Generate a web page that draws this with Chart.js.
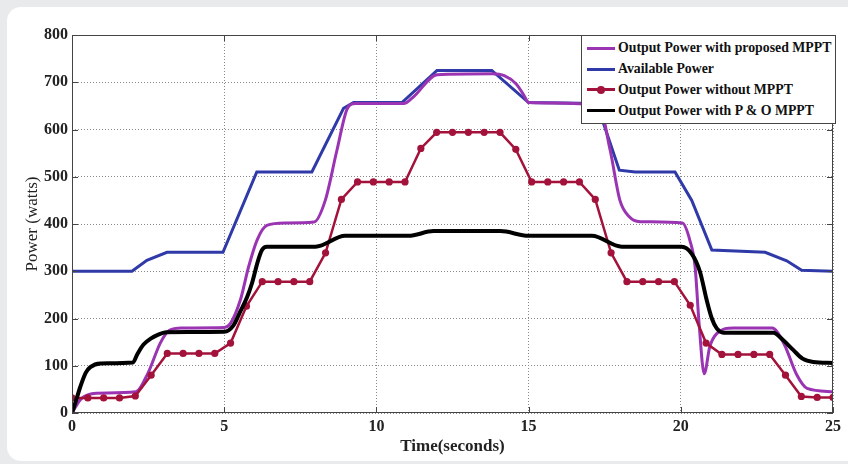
<!DOCTYPE html>
<html>
<head>
<meta charset="utf-8">
<script src="https://cdn.jsdelivr.net/npm/chart.js@4.4.1/dist/chart.umd.min.js"></script>
<style>
  html, body { margin: 0; padding: 0; }
  body { width: 848px; height: 464px; background: #e9eaec; position: relative; overflow: hidden; }
  .card { position: absolute; left: 7px; top: 7px; right: -20px; bottom: 3px; background: #fff; border-radius: 14px; }
  #chart { position: absolute; left: 0; top: 0; }
  .legend {
    position: absolute; left: 581px; top: 35px; width: 253px; height: 85px;
    background: #fff; border: 1px solid #444; padding-top: 2px; box-sizing: content-box;
    font: bold 13.8px "Liberation Serif", "Times New Roman", serif; color: #111;
  }
  .legend .row { height: 20.8px; display: flex; align-items: center; white-space: nowrap; }
  .legend .swatch { width: 28px; height: 3px; margin: 0 3px 0 5px; position: relative; }
  .legend .dot { position: absolute; left: 10px; top: -2.5px; width: 8px; height: 8px; border-radius: 50%; }
</style>
</head>
<body>
<div class="card"></div>
<canvas id="chart" width="848" height="464"></canvas>
<div class="legend" id="legend"></div>
<script>
// ── Data ─────────────────────────────────────────────────────────────────────
const seriesNames = [
    'Output Power with proposed MPPT',
    'Available Power',
    'Output Power without MPPT',
    'Output Power with P & O MPPT'
];
const seriesColors = ['#9a34b2', '#2f3aa8', '#a3123a', '#000000'];

const xTickVals = [0, 5, 10, 15, 20, 25];
const yTickVals = [0, 100, 200, 300, 400, 500, 600, 700, 800];

// proposed MPPT (purple)
const propT = [0, 0.3, 0.8, 2.1, 2.5, 2.9, 3.2, 3.6, 5.0, 5.2, 5.53, 5.8, 6.08, 6.4, 7.0, 7.95, 8.32, 8.7, 9.05, 9.3, 10.9, 11.2, 12.0, 13.8, 14.2, 14.6, 14.85, 15.0,
               17.3, 17.68, 18.0, 18.3, 18.66, 20.05, 20.3, 20.47, 20.6, 20.77, 20.95, 21.18, 21.73, 23.0, 23.4, 23.8, 24.15, 25];
const propP = [0, 30, 42, 45, 85, 148, 175, 180, 181, 189, 239, 309, 366, 397, 402, 404, 450, 555, 645, 655, 655, 668, 716, 718, 714, 696, 672, 657,
               652, 556, 450, 416, 405, 402, 365, 309, 190, 83, 140, 168, 180, 180, 145, 82, 52, 45];

// available power (blue)
const availT = [0, 1.97, 2.46, 3.12, 4.96, 6.07, 7.88, 8.92, 9.25, 10.84, 11.99, 13.79, 15.0, 17.24, 17.98, 18.5, 19.81, 20.36, 21.02, 22.77, 23.48, 23.97, 25];
const availP = [300, 300, 323, 340, 340, 510, 510, 645, 657, 657, 725, 725, 657, 655, 514, 510, 510, 450, 345, 340, 322, 302, 300];

// without MPPT (red, markers)
const noT = [0, 0.52, 1.04, 1.56, 2.08, 2.6, 3.13, 3.65, 4.17, 4.69, 5.21, 5.73, 6.25, 6.77, 7.29, 7.81, 8.33, 8.85, 9.38, 9.9, 10.42, 10.94, 11.46, 11.98, 12.5,
             13.02, 13.54, 14.06, 14.58, 15.1, 15.63, 16.15, 16.67, 17.19, 17.71, 18.23, 18.75, 19.27, 19.79, 20.31, 20.83, 21.35, 21.88, 22.4, 22.92, 23.44, 23.96, 24.48, 25];
const noP = [32, 32, 32, 32, 36, 80, 126, 126, 126, 126, 148, 226, 278, 278, 278, 278, 339, 452, 489, 489, 489, 489, 560, 594, 594,
             594, 594, 594, 558, 489, 489, 489, 489, 452, 339, 278, 278, 278, 278, 228, 148, 124, 124, 124, 124, 80, 35, 33, 33];

// P & O MPPT (black)
const poT = [0, 0.15, 0.27, 0.45, 0.6, 0.93, 2.0, 2.15, 2.35, 2.6, 2.8, 3.1, 5.0, 5.3, 5.53, 5.75, 5.91, 6.1, 6.24, 6.4, 8.0, 8.97, 11.05, 11.88, 14.07, 15.0,
             17.08, 18.06, 20.03, 20.36, 20.63, 20.85, 21.02, 21.18, 21.4, 23.04, 23.35, 23.7, 24.0, 24.35, 25];
const poP = [0, 30, 55, 85, 97, 105, 107, 125, 145, 158, 165, 171, 172, 185, 215, 245, 274, 320, 345, 352, 352, 375, 375, 385, 385, 375,
             375, 352, 352, 337, 299, 239, 200, 179, 170, 170, 155, 133, 115, 108, 106];

const pts = (t, p) => t.map((x, i) => ({ x, y: p[i] }));

// ── Frame + inward ticks (MATLAB style) ──────────────────────────────────────
const framePlugin = {
    id: 'frame',
    afterDraw(chart) {
        const { ctx, chartArea: a, scales: { x, y } } = chart;
        ctx.save();
        ctx.strokeStyle = '#444';
        ctx.lineWidth = 1;
        ctx.strokeRect(a.left + 0.5, a.top + 0.5, a.right - a.left - 1, a.bottom - a.top - 1);
        ctx.beginPath();
        xTickVals.forEach(v => {
            const px = Math.round(x.getPixelForValue(v)) + 0.5;
            ctx.moveTo(px, a.bottom); ctx.lineTo(px, a.bottom - 6);
            ctx.moveTo(px, a.top);    ctx.lineTo(px, a.top + 6);
        });
        yTickVals.forEach(v => {
            const py = Math.round(y.getPixelForValue(v)) + 0.5;
            ctx.moveTo(a.left, py);  ctx.lineTo(a.left + 6, py);
            ctx.moveTo(a.right, py); ctx.lineTo(a.right - 6, py);
        });
        ctx.stroke();
        ctx.restore();
    }
};

const serif = '"Liberation Serif", "Times New Roman", serif';

new Chart(document.getElementById('chart'), {
    type: 'line',
    data: {
        datasets: [{
            label: seriesNames[0], data: pts(propT, propP),
            borderColor: seriesColors[0], borderWidth: 3, pointRadius: 0,
            cubicInterpolationMode: 'monotone', order: 2,
        }, {
            label: seriesNames[1], data: pts(availT, availP),
            borderColor: seriesColors[1], borderWidth: 3, pointRadius: 0, order: 3,
        }, {
            label: seriesNames[2], data: pts(noT, noP),
            borderColor: seriesColors[2], backgroundColor: seriesColors[2], borderWidth: 2.5,
            pointRadius: 3.6, pointBorderWidth: 0, order: 1,
        }, {
            label: seriesNames[3], data: pts(poT, poP),
            borderColor: seriesColors[3], borderWidth: 4, pointRadius: 0,
            cubicInterpolationMode: 'monotone', order: 0,
        }]
    },
    options: {
        responsive: false,
        animation: false,
        devicePixelRatio: 1,
        layout: { padding: { left: 0, right: 15, top: 35, bottom: 0 } },
        plugins: { legend: { display: false }, tooltip: { enabled: false } },
        scales: {
            x: {
                type: 'linear', min: 0, max: 25,
                afterBuildTicks: s => { s.ticks = xTickVals.map(v => ({ value: v })); },
                afterFit: s => { s.height = 51; },
                ticks: { color: '#222', padding: 4, font: { family: serif, size: 16, weight: 'bold' } },
                grid: { color: '#8a8a8a', lineWidth: 1, drawTicks: false },
                border: { display: false, dash: [1, 2] },
                title: { display: true, text: 'Time(seconds)', color: '#222',
                         font: { family: serif, size: 17, weight: 'bold' }, padding: { bottom: 7 } }
            },
            y: {
                min: 0, max: 800,
                afterBuildTicks: s => { s.ticks = yTickVals.map(v => ({ value: v })); },
                afterFit: s => { s.width = 72; },
                ticks: { color: '#222', padding: 4, font: { family: serif, size: 16, weight: 'bold' } },
                grid: { color: '#8a8a8a', lineWidth: 1, drawTicks: false },
                border: { display: false, dash: [1, 2] },
                title: { display: true, text: 'Power (watts)', color: '#222',
                         font: { family: serif, size: 17 }, padding: { top: 22 } }
            }
        }
    },
    plugins: [framePlugin]
});

// ── Legend (HTML, built from the series) ─────────────────────────────────────
const legendEl = document.getElementById('legend');
legendEl.innerHTML = seriesNames.map((name, i) => `
    <div class="row">
      <span class="swatch" style="background:${seriesColors[i]}">${i === 2 ? `<span class="dot" style="background:${seriesColors[i]}"></span>` : ''}</span>
      <span>${name}</span>
    </div>`).join('');
</script>
</body>
</html>
